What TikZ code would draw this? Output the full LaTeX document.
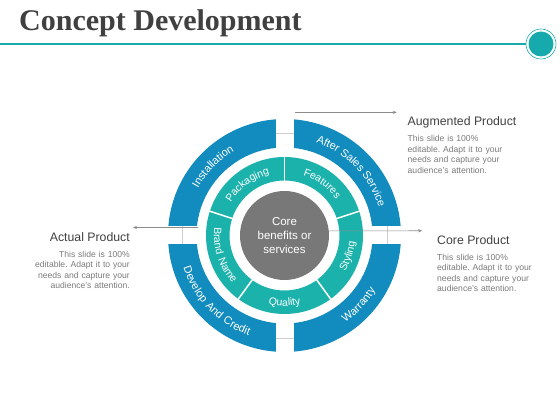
\documentclass[tikz,border=0pt]{standalone}
\usepackage{fontspec}
\setmainfont{Liberation Sans}
\newfontfamily\titlefont{Liberation Serif}
\usetikzlibrary{arrows.meta,decorations.text}
\definecolor{ringblue}{RGB}{18,140,190}
\definecolor{ringteal}{RGB}{28,178,172}
\definecolor{barteal}{RGB}{23,170,173}
\definecolor{coregray}{RGB}{120,120,120}
\definecolor{headgray}{RGB}{64,64,64}
\definecolor{bodygray}{RGB}{122,122,122}
\definecolor{linegray}{RGB}{140,140,140}
\definecolor{gapgray}{RGB}{205,205,205}
\frenchspacing
\tikzset{
  title/.style={anchor=base west,inner sep=0pt,text=headgray,font=\titlefont\bfseries\fontsize{30}{32}\selectfont},
  head/.style={inner sep=0pt,text=headgray,font=\fontsize{12.3}{14}\selectfont},
  body/.style={inner sep=0pt,text=bodygray,text width=110pt,font=\fontsize{8.6}{10.5}\selectfont},
  pointer/.style={draw=linegray,line width=0.6pt,-{Stealth[length=4pt,width=3.2pt]}},
  gapline/.style={draw=gapgray,line width=0.8pt},
  core/.style={circle,fill=coregray,minimum size=89pt,inner sep=0pt,text=white,align=center,font=\fontsize{11.5}{13.7}\selectfont}
}
% text along a ring: size, radius, start angle, end angle, text
\newcommand{\ringtext}[5]{%
  \path[decorate,decoration={text along path,text align=center,text color=white,
    text={|\fontsize{#1}{#1}\selectfont|#5}}]
    (#3:#2) arc[start angle=#3,end angle=#4,radius=#2];}
\begin{document}
\begin{tikzpicture}[x=1pt,y=1pt]
\useasboundingbox (0,0) rectangle (560,420);
% title
\node[title] (title) at (19,389) {Concept Development};
\coordinate (barL) at (0,376);
\node[circle,draw=barteal,line width=0.6pt,fill=white,minimum size=30pt,inner sep=0pt] (dot) at (541,376) {};
\fill[barteal] (dot.center) circle[radius=12.5];
\draw[barteal,line width=2pt] (barL) -- (dot.west);

\begin{scope}[shift={(284.5,184.5)}]
 \fill[ringblue,even odd rule] (0,0) circle[radius=116.5] (0,0) circle[radius=88];
 \fill[white] (-9,-120) rectangle (9,120);
 \fill[white] (-120,-9) rectangle (120,9);
 \draw[gapline] (-9,102.5) -- (9,102.5);
 \draw[gapline] (-9,-102.5) -- (9,-102.5);
 \draw[gapline] (-102.5,-9) -- (-102.5,9);
 \draw[gapline] (102.5,-9) -- (102.5,9);
 \fill[ringteal,even odd rule] (0,0) circle[radius=78.5] (0,0) circle[radius=55];
 \foreach \a in {18,90,162,234,306}
  \draw[white,line width=1.5pt] (\a:54) -- (\a:79.5);
 \node[core] (core) at (0,0) {Core\\benefits or\\services};
 % outer ring
 \ringtext{11}{98.3}{176}{96}{Installation}
 \ringtext{11}{98.3}{84}{4}{After Sales Service}
 \ringtext{11}{106.2}{277}{357}{Warranty}
 \ringtext{11}{106.2}{184}{264}{Develop{\kern4pt}And{\kern4pt}Credit}
 % inner ring
 \ringtext{10.5}{63}{161}{91}{Packaging}
 \ringtext{10.5}{63}{89}{19}{Features}
 \ringtext{10.5}{70.5}{307}{377}{Styling}
 \ringtext{10.5}{70.5}{235}{305}{Quality}
 \ringtext{10.5}{70.5}{163}{233}{Brand{\kern4.5pt}Name}
\end{scope}

% augmented product
\node[head,anchor=base west] (augHead) at (407.5,294) {Augmented Product};
\node[body,align=left,anchor=base west] (augBody) at (407.5,278.3) {This slide is 100\%\\editable. Adapt it to your\\needs and capture your\\audience's attention.};
\coordinate (augS) at (295,307.7);
\coordinate (augT) at (396.7,307.7);
\draw[pointer] (augS) -- (augT);

% actual product
\node[head,anchor=base east] (actHead) at (130,178.3) {Actual Product};
\node[body,align=right,anchor=base east] (actBody) at (130,162.8) {This slide is 100\%\\editable. Adapt it to your\\needs and capture your\\audience's attention.};
\coordinate (actS) at (198,192.5);
\coordinate (actT) at (133,192.5);
\draw[pointer] (actS) -- (actT);

% core product
\node[head,anchor=base west] (corHead) at (437,175) {Core Product};
\node[body,align=left,anchor=base west] (corBody) at (437,159.5) {This slide is 100\%\\editable. Adapt it to your\\needs and capture your\\audience's attention.};
\coordinate (corT) at (422,189.2);
\draw[pointer] (core.6) -- (corT);
\end{tikzpicture}
\end{document}
